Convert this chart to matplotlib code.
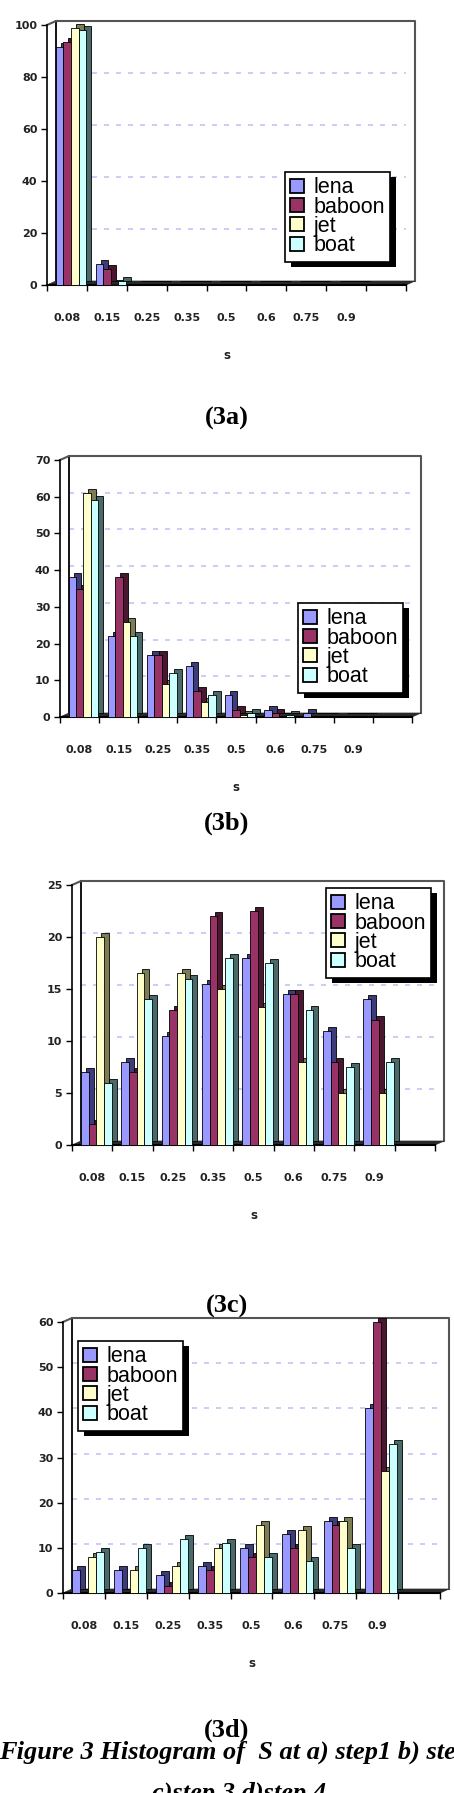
import numpy as np
import matplotlib
matplotlib.use("Agg")
import matplotlib.pyplot as plt
import matplotlib.patheffects as pe
from matplotlib.transforms import ScaledTranslation
from matplotlib.patches import Polygon

categories = ['0.08', '0.15', '0.25', '0.35', '0.5', '0.6', '0.75', '0.9']
series = ['lena', 'baboon', 'jet', 'boat']

# (3a) step 1
a_lena = [91.5, 8, 0, 0, 0, 0, 0, 0]
a_baboon = [93.5, 6, 0, 0, 0, 0, 0, 0]
a_jet = [99, 0.3, 0, 0, 0, 0, 0, 0]
a_boat = [98, 1.5, 0, 0, 0, 0, 0, 0]

# (3b) step 2
b_lena = [38, 22, 17, 14, 6, 2, 1, 0]
b_baboon = [35, 38, 17, 7, 2, 1, 0, 0]
b_jet = [61, 26, 9, 4, 0.5, 0, 0, 0]
b_boat = [59, 22, 12, 6, 1, 0.5, 0, 0]

# (3c) step 3
c_lena = [7, 8, 10.5, 15.5, 18, 14.5, 11, 14]
c_baboon = [2, 7, 13, 22, 22.5, 14.5, 8, 12]
c_jet = [20, 16.5, 16.5, 15, 13.3, 8, 5, 5]
c_boat = [6, 14, 16, 18, 17.5, 13, 7.5, 8]

# (3d) step 4
d_lena = [5, 5, 4, 6, 10, 13, 16, 41]
d_baboon = [0, 0, 1.5, 5, 8, 10, 15, 60]
d_jet = [8, 5, 6, 10, 15, 14, 16, 27]
d_boat = [9, 10, 12, 11, 8, 7, 10, 33]

colors = ['#9999ff', '#993366', '#ffffcc', '#ccffff']
sides = ['#3c3c7a', '#4a1730', '#7c7c55', '#4a6a6a']

W, H, DPI = 454, 1793, 100
DX, DY = 5, 4      # bar depth (px)
WX, WY = 9, 4      # back wall depth (px)

# box = (left, top, right, bottom) in pixels, leg = upper-left of legend
panels = [
    dict(data=[a_lena, a_baboon, a_jet, a_boat], ymax=100, step=20,
         box=(47, 25, 406, 285), leg=(285, 172), cap='(3a)', cap_y=418),
    dict(data=[b_lena, b_baboon, b_jet, b_boat], ymax=70, step=10,
         box=(60, 460, 412, 717), leg=(298, 603), cap='(3b)', cap_y=823),
    dict(data=[c_lena, c_baboon, c_jet, c_boat], ymax=25, step=5,
         box=(72, 885, 435, 1145), leg=(326, 888), cap='(3c)', cap_y=1306),
    dict(data=[d_lena, d_baboon, d_jet, d_boat], ymax=60, step=10,
         box=(63, 1322, 440, 1593), leg=(78, 1341), cap='(3d)', cap_y=1730),
]

plt.rcParams['font.family'] = ['DejaVu Sans']
fig = plt.figure(figsize=(W / DPI, H / DPI), dpi=DPI)

x = np.arange(len(categories))
w = 0.19
bar_shift = ScaledTranslation(DX / DPI, DY / DPI, fig.dpi_scale_trans)
wall_shift = ScaledTranslation(WX / DPI, WY / DPI, fig.dpi_scale_trans)

for p in panels:
    l, t, r, b = p['box']
    ax = fig.add_axes([l / W, 1 - b / H, (r - l) / W, (b - t) / H])
    axw, axh = r - l, b - t
    wxa, wya = WX / axw, WY / axh

    for k, vals in enumerate(p['data']):
        off = (k - 1.5) * w + 0.1
        ax.bar(x + off, vals, width=w, color=sides[k], edgecolor='k', lw=0.6,
               transform=ax.transData + bar_shift, zorder=2 + 2 * k, clip_on=False)
        ax.bar(x + off, vals, width=w, color=colors[k], edgecolor='k', lw=0.6,
               label=series[k], zorder=3 + 2 * k, clip_on=False)

    ax.set_xlim(-0.5, len(categories) + 0.5)
    ax.set_ylim(0, p['ymax'])

    # back wall, floor, gridlines
    yt = np.arange(0, p['ymax'] + 1, p['step'])
    ax.hlines(yt[1:-1], 0, 1, transform=ax.get_yaxis_transform() + wall_shift,
              colors='#c4c4f4', lw=1.2, linestyles=(0, (3, 4.2)), zorder=0.5)
    ax.add_patch(Polygon([(0, 0), (1, 0), (1 + wxa, wya), (wxa, wya)],
                         closed=True, transform=ax.transAxes, fc='#2a2a2a',
                         ec='#2a2a2a', lw=0.5, zorder=1.5, clip_on=False))
    ax.plot([wxa, wxa], [wya, 1 + wya], transform=ax.transAxes, color='k',
            lw=1.3, clip_on=False, zorder=1)
    ax.plot([0, wxa, 1 + wxa, 1 + wxa], [1, 1 + wya, 1 + wya, wya],
            transform=ax.transAxes, color='#555555', lw=1.5, clip_on=False, zorder=1)

    for s in ['top', 'right']:
        ax.spines[s].set_visible(False)
    ax.spines['left'].set_linewidth(1.2)
    ax.spines['bottom'].set_linewidth(1.5)

    ax.set_yticks(yt, [str(v) for v in yt], fontsize=8, fontweight='bold', color='#222222')
    ax.tick_params(axis='y', direction='out', length=4, width=1, pad=3)
    ax.set_xticks(np.arange(-0.5, len(categories) + 1, 1))
    ax.set_xticklabels([])
    ax.set_xticks(x, categories, minor=True, fontsize=8, fontweight='bold', color='#222222')
    ax.tick_params(axis='x', which='major', direction='out', length=4, width=1)
    ax.tick_params(axis='x', which='minor', length=0, pad=20)
    ax.set_xlabel('s', fontsize=8.5, fontweight='bold', color='#222222', labelpad=19)

    lx, ly = p['leg']
    leg = ax.legend(loc='upper left', bbox_to_anchor=(lx / W, 1 - ly / H),
                    bbox_transform=fig.transFigure, borderaxespad=0,
                    prop=dict(family='Liberation Sans', size=15.5), fancybox=False,
                    edgecolor='k', framealpha=1, borderpad=0.25, labelspacing=-0.08,
                    handlelength=0.62, handleheight=0.62, handletextpad=0.45)
    leg.get_frame().set_linewidth(1.2)
    leg.get_frame().set_path_effects([
        pe.SimplePatchShadow(offset=(4.3, -3.6), shadow_rgbFace='k', alpha=1),
        pe.Normal()])
    for h in leg.legend_handles:
        h.set_linewidth(1.3)

    fig.text(0.5, 1 - p['cap_y'] / H, p['cap'], ha='center', va='center',
             family='Liberation Serif', fontweight='bold', fontsize=19)

fig.text(-0.002, 1 - 1759 / H, 'Figure 3 Histogram of  S at a) step1 b) step2',
         ha='left', va='baseline', family='Liberation Serif', fontweight='bold',
         style='italic', fontsize=19)
fig.text(239 / W, 1 - 1800 / H, 'c)step 3 d)step 4', ha='center', va='baseline',
         family='Liberation Serif', fontweight='bold', style='italic', fontsize=19)

fig.savefig('out.png', dpi=DPI)
